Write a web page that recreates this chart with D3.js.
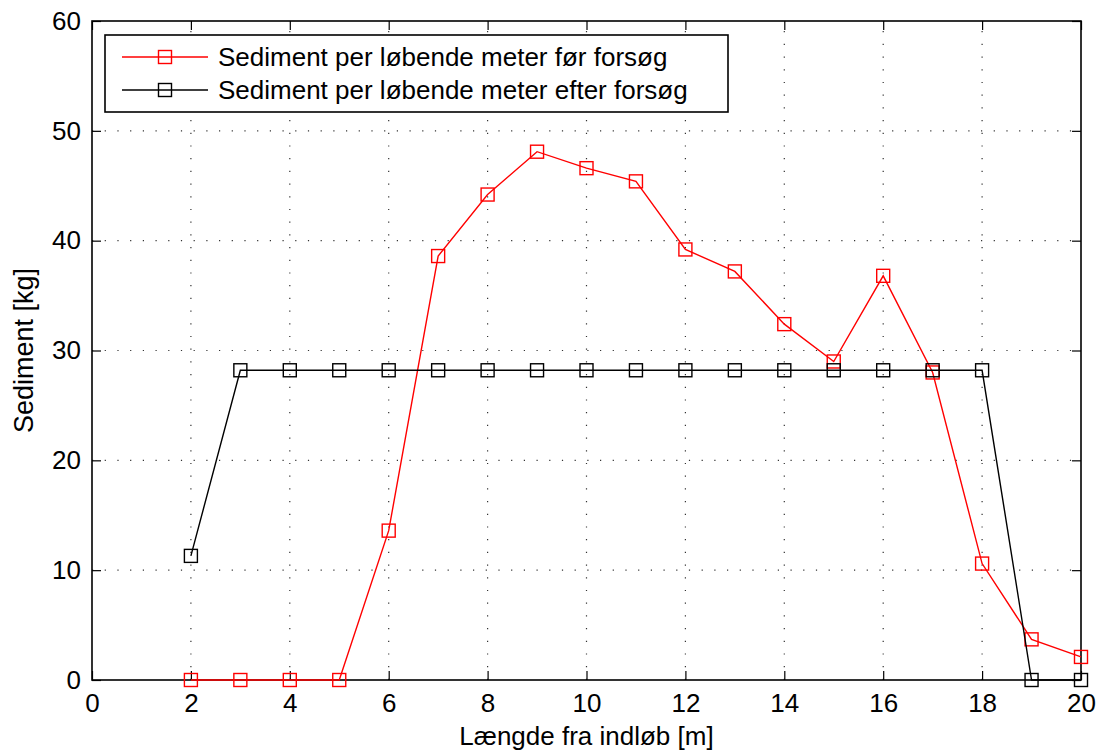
<!DOCTYPE html>
<html>
<head>
<meta charset="utf-8">
<script src="https://cdn.jsdelivr.net/npm/d3@7"></script>
<style>
  html, body { margin: 0; padding: 0; background: #fff; }
  svg { display: block; font-family: "Liberation Sans", Arial, Helvetica, sans-serif; }
</style>
</head>
<body>
<svg id="chart" width="1098" height="753"></svg>
<script>
// Distance from inlet [m]
const positions = [2, 3, 4, 5, 6, 7, 8, 9, 10, 11, 12, 13, 14, 15, 16, 17, 18, 19, 20];
// Sediment per running metre before the test [kg]
const sedimentBefore = [0, 0, 0, 0, 13.6, 38.6, 44.2, 48.1, 46.6, 45.4, 39.2, 37.2, 32.4, 29.0, 36.8, 28.0, 10.6, 3.7, 2.1];
// Sediment per running metre after the test [kg]
const sedimentAfter = [11.3, 28.2, 28.2, 28.2, 28.2, 28.2, 28.2, 28.2, 28.2, 28.2, 28.2, 28.2, 28.2, 28.2, 28.2, 28.2, 28.2, 0, 0];

const xTicks = [0, 2, 4, 6, 8, 10, 12, 14, 16, 18, 20];
const yTicks = [0, 10, 20, 30, 40, 50, 60];

const seriesNames = [
  "Sediment per løbende meter før forsøg",
  "Sediment per løbende meter efter forsøg"
];
const seriesColors = ["#ff0000", "#000000"];

const svg = d3.select("#chart");
const m = { left: 92, top: 21, right: 1098 - 1081, bottom: 753 - 680 };
const W = 1098 - m.left - m.right;
const H = 753 - m.top - m.bottom;

const x = d3.scaleLinear().domain([0, 20]).range([m.left, m.left + W]);
const y = d3.scaleLinear().domain([0, 60]).range([m.top + H, m.top]);

// dotted grid
const grid = svg.append("g").attr("stroke", "#333").attr("stroke-width", 1.2)
  .attr("stroke-dasharray", "1.2,11.5");
xTicks.slice(1, -1).forEach(t => {
  grid.append("line").attr("x1", x(t)).attr("x2", x(t))
    .attr("y1", y(0)).attr("y2", y(60));
});
yTicks.slice(1, -1).forEach(t => {
  grid.append("line").attr("x1", x(0)).attr("x2", x(20))
    .attr("y1", y(t)).attr("y2", y(t));
});

// axes with inward ticks on all four sides
const tickLen = 9;
const axisStyle = g => {
  g.select(".domain").remove();
  g.selectAll(".tick line").attr("stroke", "#000").attr("stroke-width", 1.2);
  g.selectAll(".tick text").attr("fill", "#000").style("font-size", "26px");
};
svg.append("g").attr("transform", `translate(0,${y(0)})`)
  .call(d3.axisBottom(x).tickValues(xTicks).tickFormat(d3.format("d"))
    .tickSizeInner(-tickLen).tickSizeOuter(0).tickPadding(14))
  .call(axisStyle);
svg.append("g").attr("transform", `translate(0,${y(60)})`)
  .call(d3.axisTop(x).tickValues(xTicks).tickFormat("")
    .tickSizeInner(-tickLen).tickSizeOuter(0))
  .call(axisStyle);
svg.append("g").attr("transform", `translate(${x(0)},0)`)
  .call(d3.axisLeft(y).tickValues(yTicks).tickFormat(d3.format("d"))
    .tickSizeInner(-tickLen).tickSizeOuter(0).tickPadding(11))
  .call(axisStyle);
svg.append("g").attr("transform", `translate(${x(20)},0)`)
  .call(d3.axisRight(y).tickValues(yTicks).tickFormat("")
    .tickSizeInner(-tickLen).tickSizeOuter(0))
  .call(axisStyle);

// plot frame
svg.append("rect").attr("x", x(0)).attr("y", y(60))
  .attr("width", x(20) - x(0)).attr("height", y(0) - y(60))
  .attr("fill", "none").attr("stroke", "#000").attr("stroke-width", 1.6);

// series
const line = d3.line().x(d => x(d[0])).y(d => y(d[1]));
const markerSize = 13;
[sedimentBefore, sedimentAfter].forEach((vals, i) => {
  const pts = positions.map((p, j) => [p, vals[j]]);
  svg.append("path").datum(pts).attr("d", line)
    .attr("fill", "none").attr("stroke", seriesColors[i]).attr("stroke-width", 1.4);
  svg.append("g").selectAll("rect").data(pts).join("rect")
    .attr("x", d => x(d[0]) - markerSize / 2).attr("y", d => y(d[1]) - markerSize / 2)
    .attr("width", markerSize).attr("height", markerSize)
    .attr("fill", "none").attr("stroke", seriesColors[i]).attr("stroke-width", 1.4);
});

// legend
const lg = svg.append("g");
lg.append("rect").attr("x", 105).attr("y", 35).attr("width", 623).attr("height", 77)
  .attr("fill", "#fff").attr("stroke", "#000").attr("stroke-width", 1.6);
seriesNames.forEach((name, i) => {
  const ly = 57 + i * 33;
  lg.append("line").attr("x1", 122).attr("x2", 208).attr("y1", ly).attr("y2", ly)
    .attr("stroke", seriesColors[i]).attr("stroke-width", 1.4);
  lg.append("rect").attr("x", 165 - markerSize / 2).attr("y", ly - markerSize / 2)
    .attr("width", markerSize).attr("height", markerSize)
    .attr("fill", "none").attr("stroke", seriesColors[i]).attr("stroke-width", 1.4);
  lg.append("text").attr("x", 218).attr("y", ly).attr("dy", "0.36em")
    .style("font-size", "26px").attr("fill", "#000").text(name);
});

// axis titles
svg.append("text").attr("x", (x(0) + x(20)) / 2).attr("y", 745)
  .attr("text-anchor", "middle").style("font-size", "26px").text("Længde fra indløb [m]");
svg.append("text").attr("transform", `translate(33,${(y(0) + y(60)) / 2}) rotate(-90)`)
  .attr("text-anchor", "middle").style("font-size", "27px").text("Sediment [kg]");
</script>
</body>
</html>
